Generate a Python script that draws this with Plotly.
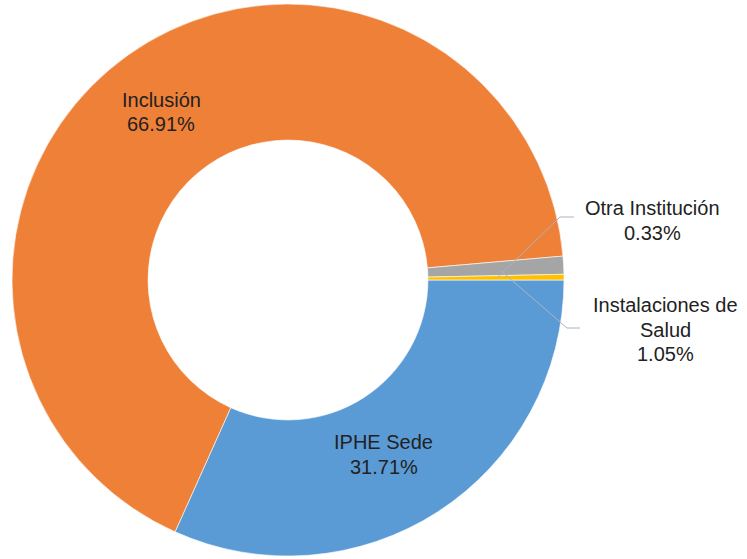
import plotly.graph_objects as go

W, H = 747, 559

categories = ["IPHE Sede", "Inclusión", "Instalaciones de Salud", "Otra Institución"]
values = [31.71, 66.91, 1.05, 0.33]
colors = ["#5B9BD5", "#EF8038", "#A5A5A5", "#FFC000"]

# label text lines and pixel centers (x, y of first line) in the screenshot
label_lines = {
    "Inclusión": (["Inclusión", "66.91%"], 161, 100),
    "IPHE Sede": (["IPHE Sede", "31.71%"], 384, 442),
    "Otra Institución": (["Otra Institución", "0.33%"], 652, 208),
    "Instalaciones de Salud": (["Instalaciones de", "Salud", "1.05%"], 665, 305),
}
line_step = 24.5

cx, cy, R = 288, 280, 276

def px(x):
    return x / W

def py(y):
    return 1 - y / H

fig = go.Figure(go.Pie(
    labels=categories,
    values=values,
    sort=False,
    direction="clockwise",
    rotation=90,
    hole=0.507,
    marker=dict(colors=colors, line=dict(color="white", width=0.6)),
    textinfo="none",
    hoverinfo="label+percent",
    domain=dict(x=[px(cx - R), px(cx + R)], y=[py(cy + R), py(cy - R)]),
    showlegend=False,
))

annotations = []
for key, (lines, x0, y0) in label_lines.items():
    for i, t in enumerate(lines):
        annotations.append(dict(
            text=t, x=px(x0), y=py(y0 + i * line_step), xref="paper", yref="paper",
            xanchor="center", yanchor="middle", showarrow=False,
            font=dict(family="Liberation Sans, Arial, sans-serif", size=20, color="#222222"),
        ))

def path(points):
    s = "M {} {}".format(px(points[0][0]), py(points[0][1]))
    for p in points[1:]:
        s += " L {} {}".format(px(p[0]), py(p[1]))
    return s

leaders = [
    [(574, 217), (560, 217), (497, 278)],
    [(580, 328), (567, 328), (500, 270)],
]
shapes = [dict(type="path", path=path(l), xref="paper", yref="paper",
               line=dict(color="#A9B4C2", width=1)) for l in leaders]

fig.update_layout(
    width=W, height=H,
    margin=dict(l=0, r=0, t=0, b=0),
    paper_bgcolor="white", plot_bgcolor="white",
    annotations=annotations,
    shapes=shapes,
)

fig.write_html("out.html", config={"displayModeBar": False},
               post_script="document.body.style.margin='0';")
